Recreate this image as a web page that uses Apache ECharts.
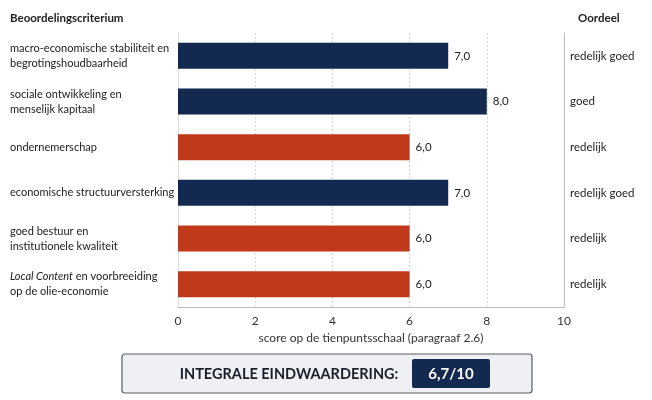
<!DOCTYPE html>
<html>
<head>
<meta charset="utf-8">
<script src="https://cdn.jsdelivr.net/npm/echarts@6/dist/echarts.min.js"></script>
<style>
  html, body { margin: 0; padding: 0; background: #fff; }
  #chart { width: 652px; height: 400px; }
</style>
</head>
<body>
<div id="chart"></div>
<script>
// criteria (top to bottom), scores and verdicts
const criteria = [
    'macro-economische stabiliteit en\nbegrotingshoudbaarheid',
    'sociale ontwikkeling en\nmenselijk kapitaal',
    'ondernemerschap',
    'economische structuurversterking',
    'goed bestuur en\ninstitutionele kwaliteit',
    '{i|Local Content} en voorbreeiding\nop de olie-economie'
];
const scores = [7.0, 8.0, 6.0, 7.0, 6.0, 6.0];
const verdicts = ['redelijk goed', 'goed', 'redelijk', 'redelijk goed', 'redelijk', 'redelijk'];
const xTicks = [0, 2, 4, 6, 8, 10];
const totalScore = '6,7/10';

window.onload = function () {
    let myChart = echarts.init(document.getElementById('chart'));
    const FONT = 'Lato';
    const NAVY = '#13294f';
    const RED = '#c0391a';

    let option = {
        animation: false,
        textStyle: { fontFamily: FONT },
        grid: { left: 178, right: 88, top: 33, bottom: 93 },
        xAxis: {
            type: 'value',
            min: xTicks[0],
            max: xTicks[xTicks.length - 1],
            interval: 2,
            name: 'score op de tienpuntsschaal (paragraaf 2.6)',
            nameLocation: 'middle',
            nameGap: 24,
            nameTextStyle: { color: '#333', fontSize: 12, fontFamily: FONT },
            axisLine: { show: true, lineStyle: { color: '#bdbdbd', width: 1 } },
            axisTick: { show: false },
            axisLabel: { color: '#333', fontSize: 12, margin: 8, fontFamily: FONT },
            splitLine: { show: true, lineStyle: { color: '#d6d6d6', type: [2, 2] } }
        },
        yAxis: [
            {
                type: 'category',
                inverse: true,
                data: criteria,
                axisLine: { show: true, lineStyle: { color: '#dcdcdc' } },
                axisTick: { show: false },
                axisLabel: {
                    align: 'left',
                    margin: 168,
                    color: '#222',
                    fontSize: 11,
                    lineHeight: 15,
                    fontFamily: FONT,
                    rich: {
                        i: { fontStyle: 'italic', fontSize: 11, color: '#222', fontFamily: FONT, lineHeight: 15 }
                    }
                }
            },
            {
                type: 'category',
                inverse: true,
                position: 'right',
                data: verdicts,
                axisLine: { show: true, lineStyle: { color: '#bdbdbd' } },
                axisTick: { show: false },
                axisLabel: { align: 'left', margin: 6, color: '#222', fontSize: 11.5, fontFamily: FONT }
            }
        ],
        series: [
            {
                type: 'bar',
                data: scores,
                barWidth: 26,
                itemStyle: {
                    color: function (p) {
                        return verdicts[p.dataIndex] === 'redelijk' ? RED : NAVY;
                    }
                },
                label: {
                    show: true,
                    position: 'right',
                    distance: 6,
                    color: '#222',
                    fontSize: 11.5,
                    fontFamily: FONT,
                    formatter: function (p) {
                        return p.value.toFixed(1).replace('.', ',');
                    }
                }
            }
        ],
        graphic: [
            {
                type: 'text', left: 10, top: 12,
                style: { text: 'Beoordelingscriterium', fontWeight: 'bold', fontSize: 11.5, fontFamily: FONT, fill: '#222' }
            },
            {
                type: 'text', left: 578, top: 12,
                style: { text: 'Oordeel', fontWeight: 'bold', fontSize: 11.5, fontFamily: FONT, fill: '#222' }
            },
            {
                type: 'rect',
                shape: { x: 122, y: 354, width: 410, height: 39, r: 3 },
                style: { fill: '#eef0f4', stroke: '#5c5f66', lineWidth: 1.2 }
            },
            {
                type: 'text', x: 289, y: 374,
                style: { text: 'INTEGRALE EINDWAARDERING:', fontWeight: 'bold', fontSize: 14.5, fontFamily: FONT, fill: '#1a1f2b', align: 'center', verticalAlign: 'middle' }
            },
            {
                type: 'rect',
                shape: { x: 412, y: 359, width: 78, height: 29, r: 2 },
                style: { fill: NAVY }
            },
            {
                type: 'text', x: 451, y: 374,
                style: { text: totalScore, fontWeight: 'bold', fontSize: 15, fontFamily: FONT, fill: '#fff', align: 'center', verticalAlign: 'middle' }
            }
        ]
    };
    myChart.setOption(option);
};
</script>
</body>
</html>
